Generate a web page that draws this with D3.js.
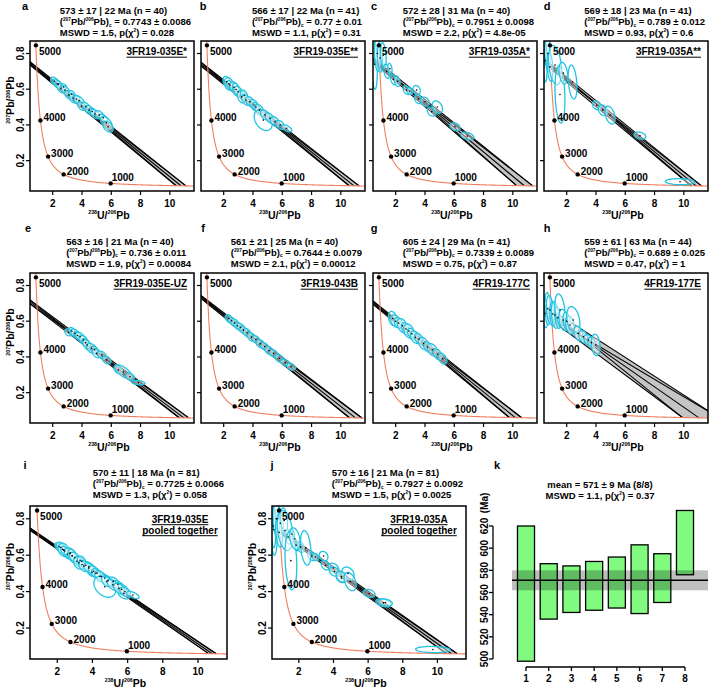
<!DOCTYPE html>
<html><head><meta charset="utf-8">
<script src="https://cdn.jsdelivr.net/npm/d3@7"></script>
<style>
body{margin:0;background:#fff}
svg text{font-family:"Liberation Sans",Arial,sans-serif;font-weight:bold;fill:#000}
</style>
</head><body>
<svg id="c" width="709" height="689"></svg>
<script>
// ---------------- DATA ----------------
const panelLetters = ["a","b","c","d","e","f","g","h","i","j"];
const sampleNames = ["3FR19-035E*","3FR19-035E**","3FR19-035A*","3FR19-035A**","3FR19-035E-UZ","3FR19-043B","4FR19-177C","4FR19-177E","3FR19-035E|pooled together","3FR19-035A|pooled together"];
const ages      = [573,566,572,569,563,561,605,559,570,570];
const ageErr    = [17,17,28,18,16,21,24,61,11,16];
const ageErrSys = [22,22,31,23,21,25,29,63,18,21];
const nPoints   = [40,41,40,41,40,40,41,44,81,81];
const pb76      = [0.7743,0.77,0.7951,0.789,0.736,0.7644,0.7339,0.689,0.7725,0.7927];
const pb76Err   = [0.0086,0.01,0.0098,0.012,0.011,0.0079,0.0089,0.025,0.0066,0.0092];
const pb76Label = ["0.7743 ± 0.0086","0.77 ± 0.01","0.7951 ± 0.0098","0.789 ± 0.012","0.736 ± 0.011","0.7644 ± 0.0079","0.7339 ± 0.0089","0.689 ± 0.025","0.7725 ± 0.0066","0.7927 ± 0.0092"];
const mswd      = ["1.5","1.1","2.2","0.93","1.9","2.1","0.75","0.47","1.3","1.5"];
const pChi      = ["0.028","0.31","4.8e-05","0.6","0.00084","0.00012","0.87","1","0.058","0.0025"];

const concAges = [1000,2000,3000,4000,5000];
const xTicks = [2,4,6,8,10];
const yTicks = [0.2,0.4,0.6,0.8];

// ellipses: [x (238U/206Pb), y (207Pb/206Pb), sx, sy, rho]
const ellA = [
 [2.11,0.646,0.25,0.022,-0.4],[2.30,0.632,0.3,0.025,-0.5],[2.38,0.627,0.22,0.02,-0.3],
 [2.57,0.605,0.3,0.026,-0.5],[2.75,0.612,0.2,0.018,-0.2],[2.84,0.595,0.28,0.024,-0.4],
 [3.11,0.567,0.3,0.025,-0.5],[3.30,0.572,0.22,0.02,-0.3],[3.41,0.549,0.3,0.026,-0.4],
 [3.62,0.545,0.25,0.022,-0.4],[3.80,0.536,0.35,0.028,-0.5],[3.98,0.506,0.28,0.024,-0.4],
 [4.27,0.502,0.3,0.025,-0.5],[4.50,0.483,0.3,0.026,-0.4],[4.70,0.475,0.25,0.02,-0.3],
 [4.89,0.461,0.32,0.026,-0.5],[5.18,0.456,0.3,0.024,-0.4],[5.45,0.440,0.28,0.02,-0.5],
 [5.66,0.412,0.4,0.035,-0.5],[5.78,0.390,0.35,0.03,-0.4]
];
const ellB = [
 [2.20,0.642,0.25,0.03,-0.3],[2.35,0.630,0.3,0.035,-0.2],[2.43,0.623,0.22,0.025,-0.4],
 [2.70,0.611,0.3,0.03,-0.3],[2.85,0.598,0.25,0.035,-0.3],[3.00,0.586,0.3,0.03,-0.4],
 [3.23,0.558,0.3,0.035,-0.3],[3.40,0.565,0.25,0.03,-0.4],[3.52,0.540,0.3,0.03,-0.4],
 [3.80,0.530,0.3,0.028,-0.4],[4.07,0.512,0.3,0.03,-0.4],[4.20,0.500,0.25,0.025,-0.3],
 [4.43,0.484,0.3,0.03,-0.4],[4.70,0.427,0.62,0.058,-0.35],[4.82,0.456,0.3,0.028,-0.4],
 [5.16,0.437,0.32,0.03,-0.5],[5.50,0.418,0.3,0.028,-0.4],[5.85,0.400,0.3,0.025,-0.4],
 [6.30,0.381,0.35,0.02,-0.6]
];
const ellC = [
 [0.55,0.74,0.2,0.14,-0.2],[0.75,0.80,0.2,0.10,-0.2],[0.93,0.775,0.18,0.08,-0.3],
 [1.15,0.79,0.2,0.07,-0.3],[1.38,0.70,0.2,0.04,-0.4],[1.60,0.715,0.15,0.03,-0.3],
 [1.84,0.655,0.2,0.03,-0.4],[2.10,0.645,0.2,0.03,-0.3],[2.75,0.595,0.25,0.025,-0.4],
 [2.95,0.59,0.2,0.02,-0.3],[3.43,0.595,0.25,0.026,-0.2],[3.54,0.545,0.25,0.026,-0.3],
 [4.00,0.53,0.3,0.026,-0.3],[4.46,0.474,0.3,0.025,-0.3],[4.84,0.50,0.35,0.035,-0.3],
 [6.05,0.39,0.35,0.022,-0.3],[6.89,0.338,0.45,0.022,-0.4]
];
const ellD = [
 [0.52,0.76,0.15,0.12,-0.2],[0.70,0.80,0.2,0.10,-0.2],[0.86,0.725,0.2,0.08,-0.3],
 [1.20,0.735,0.45,0.11,-0.3],[1.54,0.57,0.34,0.16,-0.2],[1.77,0.69,0.3,0.06,-0.3],
 [2.40,0.64,0.3,0.095,-0.3],[4.05,0.51,0.3,0.025,-0.3],[4.46,0.483,0.3,0.03,-0.3],
 [4.96,0.455,0.35,0.05,-0.4],[7.00,0.34,0.4,0.02,-0.3],[9.74,0.082,1.0,0.017,-0.1]
];
const ellE = [
 [3.07,0.538,0.25,0.02,-0.3],[3.30,0.545,0.2,0.02,-0.3],[3.52,0.532,0.3,0.025,-0.4],
 [3.70,0.52,0.25,0.022,-0.4],[3.87,0.513,0.3,0.025,-0.4],[4.09,0.495,0.3,0.025,-0.4],
 [4.25,0.48,0.25,0.022,-0.3],[4.36,0.467,0.3,0.03,-0.5],[4.66,0.448,0.35,0.028,-0.4],
 [4.85,0.44,0.25,0.02,-0.3],[5.00,0.42,0.3,0.025,-0.4],[5.35,0.411,0.3,0.022,-0.4],
 [5.69,0.383,0.3,0.022,-0.4],[6.48,0.327,0.3,0.02,-0.4],[6.82,0.317,0.6,0.04,-0.7],
 [7.28,0.289,0.3,0.02,-0.3],[7.85,0.256,0.45,0.012,-0.3]
];
const ellF = [
 [2.35,0.615,0.25,0.022,-0.4],[2.55,0.602,0.25,0.022,-0.4],[2.75,0.59,0.28,0.024,-0.4],
 [2.95,0.575,0.25,0.022,-0.4],[3.15,0.565,0.28,0.024,-0.4],[3.35,0.55,0.25,0.022,-0.4],
 [3.60,0.535,0.28,0.024,-0.4],[3.90,0.512,0.3,0.024,-0.4],[4.20,0.498,0.28,0.022,-0.4],
 [4.50,0.474,0.3,0.024,-0.4],[4.80,0.458,0.28,0.022,-0.4],[5.10,0.436,0.3,0.024,-0.4],
 [5.40,0.42,0.3,0.022,-0.4],[5.80,0.392,0.3,0.022,-0.4],[6.20,0.368,0.3,0.02,-0.4],
 [6.60,0.345,0.3,0.02,-0.4]
];
const ellG = [
 [1.80,0.615,0.3,0.04,-0.3],[2.00,0.60,0.35,0.035,-0.4],[2.20,0.59,0.3,0.03,-0.3],
 [2.45,0.575,0.35,0.04,-0.4],[2.70,0.556,0.3,0.035,-0.4],[2.90,0.545,0.35,0.04,-0.3],
 [3.10,0.53,0.3,0.03,-0.4],[3.35,0.51,0.35,0.035,-0.4],[3.60,0.50,0.3,0.03,-0.4],
 [3.90,0.475,0.35,0.035,-0.4],[4.20,0.455,0.3,0.03,-0.4],[4.50,0.44,0.35,0.035,-0.4],
 [4.85,0.415,0.3,0.03,-0.4],[5.20,0.39,0.3,0.03,-0.4]
];
const ellH = [
 [0.52,0.644,0.2,0.08,-0.2],[0.70,0.67,0.2,0.09,-0.2],[0.86,0.663,0.25,0.08,-0.3],
 [1.05,0.64,0.2,0.07,-0.2],[1.20,0.635,0.25,0.075,-0.3],[1.40,0.62,0.2,0.06,-0.3],
 [1.54,0.663,0.35,0.09,-0.3],[1.77,0.607,0.3,0.06,-0.3],[2.00,0.60,0.25,0.05,-0.3],
 [2.22,0.579,0.3,0.05,-0.3],[2.45,0.607,0.45,0.075,-0.3],[2.79,0.532,0.3,0.04,-0.3],
 [3.13,0.513,0.3,0.035,-0.3],[3.47,0.495,0.3,0.03,-0.3],[3.70,0.48,0.25,0.03,-0.3],
 [3.98,0.467,0.3,0.06,-0.2]
];
const ellipseSets = [ellA, ellB, ellC, ellD, ellE, ellF, ellG, ellH, ellA.concat(ellB), ellC.concat(ellD)];

// panel k: weighted mean
const kCats = [1,2,3,4,5,6,7,8];
const kAges = [559,561,563,566,569,572,573,605];
const kErrs = [61,25,21,22,23,31,22,29];
const kTicksY = [500,520,540,560,580,600,620];
const kMean = 571, kMeanErr = 9;
const kTitle = ["mean = 571 ± 9 Ma (8/8)", "MSWD = 1.1, p(χ|2|) = 0.37"];

// ---------------- LAYOUT ----------------
const boxes = [
 {l:30, t:41, w:164, h:150, r:0, lx:25},
 {l:201,t:41, w:164, h:150, r:0, lx:203},
 {l:373,t:41, w:164, h:150, r:0, lx:374},
 {l:544,t:41, w:164, h:150, r:0, lx:547},
 {l:30, t:273,w:164, h:150, r:1, lx:28},
 {l:201,t:273,w:164, h:150, r:1, lx:203},
 {l:373,t:273,w:164, h:150, r:1, lx:374},
 {l:544,t:273,w:164, h:150, r:1, lx:547},
 {l:30, t:506,w:197, h:153, r:2, lx:25},
 {l:272,t:506,w:194, h:153, r:2, lx:272}
];
const rowTitleY = [[14,25,36],[244.5,255.5,266.5],[476,487,498]];
const rowLetterY = [9.5, 232, 469];
const yLabelPanels = [0,4,8,9];
const xDom = [0.45, 11.65], yDom = [0.03, 0.87];
const TF = 9.5;

const svg = d3.select("#c");
const defs = svg.append("defs");

function concordia(t){
  const e8 = Math.exp(1.55125e-4*t)-1, e5 = Math.exp(9.8485e-4*t)-1;
  return [1/e8, e5/e8/137.818];
}
function rich(sel, parts, size){
  let cur = 0;
  parts.forEach(([t,m])=>{
    const off = m===1 ? -size*0.4 : (m===2 ? size*0.2 : 0);
    sel.append("tspan").attr("dy", off-cur).attr("font-size", m===0?size:size*0.5).text(t);
    cur = off;
  });
}
function ellPath(e, xs, ys){
  const [cx,cy,sx,sy,r] = e; const q = Math.sqrt(1-r*r);
  const pts = d3.range(0,61).map(i=>{const a=i/60*2*Math.PI;
    return [xs(cx+sx*Math.cos(a)), ys(cy+sy*(r*Math.cos(a)+q*Math.sin(a)))];});
  return d3.line()(pts)+"Z";
}

boxes.forEach((b,i)=>{
  const xs = d3.scaleLinear().domain(xDom).range([b.l, b.l+b.w]);
  const ys = d3.scaleLinear().domain(yDom).range([b.t+b.h, b.t]);
  const g = svg.append("g");
  const cid = "clip"+i;
  defs.append("clipPath").attr("id",cid).append("rect").attr("x",b.l).attr("y",b.t).attr("width",b.w).attr("height",b.h);
  const pg = g.append("g").attr("clip-path",`url(#${cid})`);

  // discordia envelope
  const y0=pb76[i], e0=pb76Err[i], t=ages[i], et=ageErr[i];
  const cY = concordia(t-et), cO = concordia(t+et);
  pg.append("path").attr("d", d3.line()([[xs(0),ys(y0+e0)],[xs(cY[0]),ys(cY[1])],[xs(cO[0]),ys(cO[1])],[xs(0),ys(y0-e0)]])+"Z")
    .attr("fill","#c4c4c4").attr("stroke","none");
  const lines = [[y0+e0,t-et],[y0-e0,t+et],[y0,t],[y0+e0,t+et],[y0-e0,t-et]];
  lines.forEach(([a,tt])=>{
    const c = concordia(tt);
    pg.append("line").attr("x1",xs(0)).attr("y1",ys(a)).attr("x2",xs(c[0])).attr("y2",ys(c[1]))
      .attr("stroke","#000").attr("stroke-width",1.1);
  });

  // concordia
  const cpts = d3.range(150,5700,10).map(tt=>{const c=concordia(tt); return [xs(c[0]),ys(c[1])];});
  pg.append("path").attr("d",d3.line()(cpts)).attr("fill","none").attr("stroke","#ef7f5c").attr("stroke-width",1.1);

  // ellipses
  const es = ellipseSets[i];
  pg.selectAll("path.el").data(es).enter().append("path").attr("class","el")
    .attr("d",e=>ellPath(e,xs,ys)).attr("fill","rgba(255,255,255,0.45)").attr("stroke","#20c4e2").attr("stroke-width",1.3);
  pg.selectAll("circle.cd").data(es).enter().append("circle").attr("class","cd")
    .attr("cx",e=>xs(e[0])).attr("cy",e=>ys(e[1])).attr("r",0.8).attr("fill","#000");

  // concordia age markers
  concAges.forEach(a=>{
    const c = concordia(a);
    g.append("circle").attr("cx",xs(c[0])).attr("cy",ys(c[1])).attr("r",2.2).attr("fill","#000");
    g.append("text").attr("x",xs(c[0])+ (a===1000?1:3)).attr("y",ys(c[1])+(a===5000?9.5:(a===1000?-2.5:0.5)))
      .attr("font-size",10).text(a);
  });

  // box
  g.append("rect").attr("x",b.l).attr("y",b.t).attr("width",b.w).attr("height",b.h)
    .attr("fill","none").attr("stroke","#000").attr("stroke-width",1.5);

  // x ticks
  const bot = b.t+b.h;
  xTicks.forEach(v=>{
    g.append("line").attr("x1",xs(v)).attr("x2",xs(v)).attr("y1",bot).attr("y2",bot+4).attr("stroke","#000").attr("stroke-width",1.2);
    g.append("text").attr("x",xs(v)).attr("y",bot+15.5).attr("text-anchor","middle").attr("font-size",10).text(v);
  });
  const xl = g.append("text").attr("x",b.l+b.w/2-3).attr("y",bot+27.5).attr("text-anchor","middle");
  rich(xl, [["238",1],["U/",0],["206",1],["Pb",0]], 10.5);

  // y ticks
  const showY = yLabelPanels.includes(i);
  yTicks.forEach(v=>{
    g.append("line").attr("x1",b.l-4).attr("x2",b.l).attr("y1",ys(v)).attr("y2",ys(v)).attr("stroke","#000").attr("stroke-width",1.2);
    if(showY) g.append("text").attr("transform",`translate(${b.l-6.5},${ys(v)}) rotate(-90)`).attr("text-anchor","middle").attr("font-size",10).text(v);
  });
  if(showY){
    const yl = g.append("text").attr("transform",`translate(${b.l-16},${b.t+b.h/2-16}) rotate(-90)`).attr("text-anchor","middle");
    rich(yl, [["207",1],["Pb/",0],["206",1],["Pb",0]], 10.5);
  }

  // panel letter
  g.append("text").attr("x",b.lx).attr("y",rowLetterY[b.r]).attr("text-anchor","middle").attr("font-size",11).text(panelLetters[i]);

  // title block (left-aligned, widest line ending near box right)
  const ty = rowTitleY[b.r];
  const tg = g.append("g");
  const t1 = tg.append("text").attr("y",ty[0]).attr("font-size",TF).text(`${ages[i]} ± ${ageErr[i]} | ${ageErrSys[i]} Ma (n = ${nPoints[i]})`);
  const t2 = tg.append("text").attr("y",ty[1]);
  rich(t2, [["(",0],["207",1],["Pb/",0],["206",1],["Pb)",0],["c",2],[" = "+pb76Label[i],0]], TF);
  const t3 = tg.append("text").attr("y",ty[2]);
  rich(t3, [["MSWD = "+mswd[i]+", p(χ",0],["2",1],[") = "+pChi[i],0]], TF);
  const wmax = Math.max(...[t1,t2,t3].map(s=>s.node().getComputedTextLength()));
  const tx = b.l + b.w - 3 - wmax;
  [t1,t2,t3].forEach(s=>s.attr("x",tx));

  // sample label, underlined
  const parts = sampleNames[i].split("|");
  if(parts.length===1){
    const st = g.append("text").attr("x",b.l+b.w-7).attr("y",b.t+14).attr("text-anchor","end").attr("font-size",10).text(parts[0]);
    const w = st.node().getComputedTextLength();
    g.append("line").attr("x1",b.l+b.w-7-w).attr("x2",b.l+b.w-7).attr("y1",b.t+16.2).attr("y2",b.t+16.2).attr("stroke","#000").attr("stroke-width",1);
  } else {
    parts.forEach((p,k)=>{
      const cx = b.l+b.w-47, yb = b.t+16.5+k*11;
      const st = g.append("text").attr("x",cx).attr("y",yb).attr("text-anchor","middle").attr("font-size",10).text(p);
      const w = st.node().getComputedTextLength();
      g.append("line").attr("x1",cx-w/2).attr("x2",cx+w/2).attr("y1",yb+2.2).attr("y2",yb+2.2).attr("stroke","#000").attr("stroke-width",1);
    });
  }
});

// ---------------- PANEL k ----------------
(function(){
  const xk = d3.scaleLinear().domain([1,8]).range([526,685]);
  const yk = d3.scaleLinear().domain([500,620]).range([659,526]);
  const g = svg.append("g");
  const plotL = 512, plotR = 708;
  g.selectAll("rect.bar").data(kCats).enter().append("rect").attr("class","bar")
    .attr("x",d=>xk(d-0.375)).attr("width",d=>xk(d+0.375)-xk(d-0.375))
    .attr("y",(d,i)=>yk(kAges[i]+kErrs[i])).attr("height",(d,i)=>yk(kAges[i]-kErrs[i])-yk(kAges[i]+kErrs[i]))
    .attr("fill","#80fb80").attr("stroke","#000").attr("stroke-width",1.3);
  g.append("rect").attr("x",plotL).attr("width",plotR-plotL).attr("y",yk(kMean+kMeanErr)).attr("height",yk(kMean-kMeanErr)-yk(kMean+kMeanErr))
    .attr("fill","#000").attr("fill-opacity",0.25);
  g.append("line").attr("x1",plotL).attr("x2",plotR).attr("y1",yk(kMean)).attr("y2",yk(kMean)).attr("stroke","#000").attr("stroke-width",1.5);
  g.append("line").attr("x1",493).attr("x2",493).attr("y1",yk(500)).attr("y2",yk(620)).attr("stroke","#000").attr("stroke-width",1.3);
  kTicksY.forEach(v=>{
    g.append("line").attr("x1",489).attr("x2",493).attr("y1",yk(v)).attr("y2",yk(v)).attr("stroke","#000").attr("stroke-width",1.3);
    g.append("text").attr("transform",`translate(488,${yk(v)}) rotate(-90)`).attr("text-anchor","middle").attr("font-size",10).text(v);
  });
  g.append("text").attr("transform",`translate(488,503) rotate(-90)`).attr("text-anchor","middle").attr("font-size",10).text("(Ma)");
  g.append("line").attr("x1",xk(1)).attr("x2",xk(8)).attr("y1",667).attr("y2",667).attr("stroke","#000").attr("stroke-width",1.3);
  kCats.forEach(v=>{
    g.append("line").attr("x1",xk(v)).attr("x2",xk(v)).attr("y1",667).attr("y2",671).attr("stroke","#000").attr("stroke-width",1.3);
    g.append("text").attr("x",xk(v)).attr("y",682).attr("text-anchor","middle").attr("font-size",10).text(v);
  });
  g.append("text").attr("x",600).attr("y",487.5).attr("text-anchor","middle").attr("font-size",TF).text(kTitle[0]);
  const t2 = g.append("text").attr("x",600).attr("y",498.5).attr("text-anchor","middle");
  const p = kTitle[1].split("|");
  rich(t2, [[p[0],0],[p[1],1],[p[2],0]], TF);
  g.append("text").attr("x",497).attr("y",469).attr("text-anchor","middle").attr("font-size",11).text("k");
})();
</script>
</body></html>
